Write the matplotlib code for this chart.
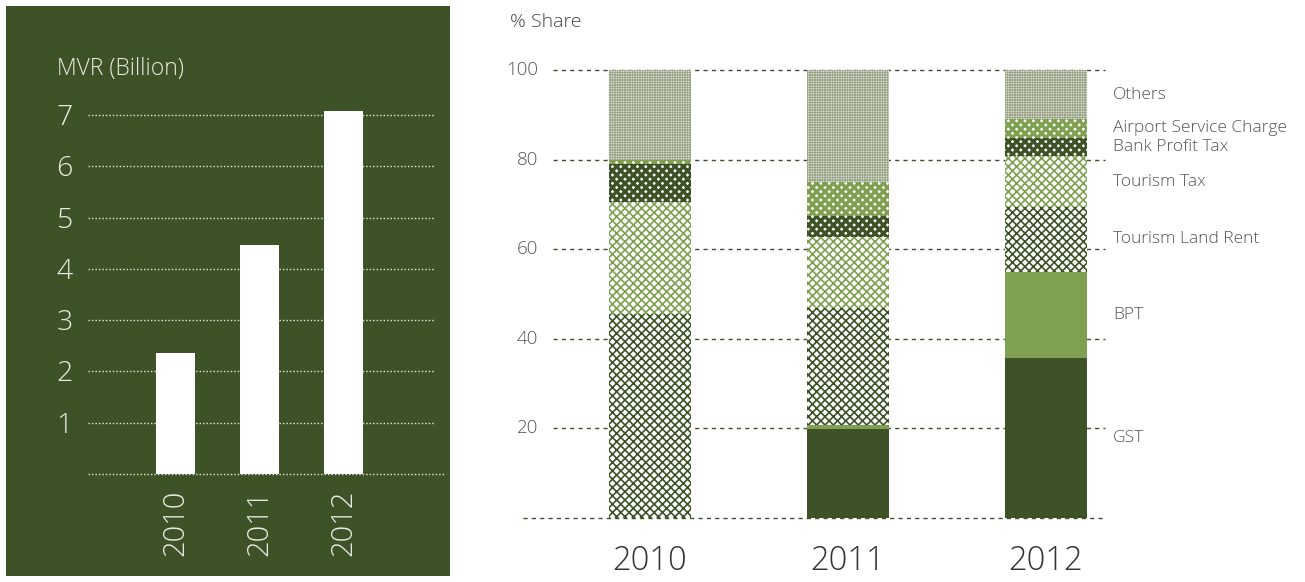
import matplotlib
matplotlib.use("Agg")
import matplotlib.pyplot as plt

plt.rcParams['font.family'] = ['Open Sans', 'DejaVu Sans']
plt.rcParams['font.weight'] = 'light'

# ----- DATA -----
years = ["2010", "2011", "2012"]
revenue_bn = [2.36, 4.46, 7.08]

# stacked shares, bottom to top
categories = ["GST", "BPT", "Tourism Land Rent", "Tourism Tax",
              "Bank Profit Tax", "Airport Service Charge", "Others"]
share_2010 = [0.0, 0.0, 45.5, 25.0, 8.5, 1.0, 20.0]
share_2011 = [19.9, 0.8, 26.2, 15.9, 4.6, 7.7, 24.9]
share_2012 = [35.7, 19.2, 14.6, 11.2, 4.2, 4.1, 11.0]
shares = [share_2010, share_2011, share_2012]

DARK = "#3d5226"
LIGHT = "#7fa050"
# face, hatch, hatch colour, hatch linewidth
styles = {
    "GST": (DARK, None, DARK, 1.0),
    "BPT": (LIGHT, None, LIGHT, 1.0),
    "Tourism Land Rent": ("white", "xxxx", DARK, 1.2),
    "Tourism Tax": ("white", "xxxx", LIGHT, 1.2),
    "Bank Profit Tax": ("white", "xxxx", DARK, 2.4),
    "Airport Service Charge": ("white", "xxxx", LIGHT, 2.4),
    "Others": ("white", "++++++++++", "#98a386", 0.5),
}

W, H = 1305, 582
fig = plt.figure(figsize=(W / 100, H / 100), dpi=100)


def fbox(x0, y0, x1, y1):
    # pixel box (top-left origin) -> figure fraction rect
    return [x0 / W, 1 - y1 / H, (x1 - x0) / W, (y1 - y0) / H]


# ----- LEFT PANEL -----
bg = fig.add_axes(fbox(6, 6, 450, 576))
bg.set_facecolor(DARK)
bg.set_xticks([])
bg.set_yticks([])
for s in bg.spines.values():
    s.set_visible(False)
bg.set_zorder(0)

txt = "#e9ebe2"
ax1 = fig.add_axes(fbox(88, 94.4, 435, 474))
ax1.set_zorder(1)
ax1.patch.set_alpha(0)
x1 = range(len(years))
ax1.bar(x1, revenue_bn, width=0.47, color="white", zorder=3)
ax1.set_xlim(-1.04, 3.09)
ax1.set_ylim(0, 7.4)
for v in range(1, 8):
    ax1.axhline(v, color=txt, lw=1, ls=(0, (1, 1.5)), zorder=1)
ax1.axhline(0, xmin=0, xmax=1.03, color=txt, lw=1, ls=(0, (1, 1.5)),
            clip_on=False, zorder=1)
for s in ax1.spines.values():
    s.set_visible(False)
ax1.set_xticks([])
ax1.set_yticks([])
for v in range(1, 8):
    ax1.text(-1.32, v - 0.06, str(v), color=txt, fontsize=20.5,
             ha="center", va="center")
for i, y in enumerate(years):
    ax1.text(i, -0.3, y, color=txt, fontsize=21,
             rotation=90, ha="center", va="top")
fig.text(57 / W, 1 - 69 / H, "MVR (Billion)", color=txt, fontsize=16.5,
         va="center")

# ----- RIGHT PANEL -----
ax2 = fig.add_axes(fbox(553, 70, 1105, 518))
x2 = list(range(len(years)))
for j, cat in enumerate(categories):
    face, hatch, hcol, hlw = styles[cat]
    vals = [s[j] for s in shares]
    bottoms = [sum(s[:j]) for s in shares]
    with plt.rc_context({"hatch.linewidth": hlw}):
        bars = ax2.bar(x2, vals, bottom=bottoms, width=0.414, color=face,
                       edgecolor=hcol, hatch=hatch, linewidth=0, zorder=3)
    for b in bars:
        if hasattr(b, "set_hatch_linewidth"):
            b.set_hatch_linewidth(hlw)

ax2.set_xlim(-0.49, 2.298)
ax2.set_ylim(0, 100)
for v in [20, 40, 60, 80, 100]:
    ax2.axhline(v, color=DARK, lw=1, ls=(0, (3, 3)), zorder=1, clip_on=False)
ax2.axhline(0, xmin=-30 / 552, xmax=1, color=DARK, lw=1, ls=(0, (3, 3)),
            zorder=1, clip_on=False)
for s in ax2.spines.values():
    s.set_visible(False)
ax2.set_xticks([])
ax2.set_yticks([])
for v in [20, 40, 60, 80, 100]:
    ax2.text(-0.565, v, str(v), color="#555555", fontsize=13.5,
             ha="right", va="center", clip_on=False)
for i, y in enumerate(years):
    ax2.text(i, -6.0, y, color="#333333", fontsize=23.5,
             ha="center", va="top")

# labels beside the 2012 bar at segment midpoints
for j, cat in enumerate(categories):
    mid = sum(share_2012[:j]) + share_2012[j] / 2
    ax2.text(2.34, mid, cat, color="#555555", fontsize=12.5,
             ha="left", va="center", clip_on=False)

fig.text(510 / W, 1 - 22 / H, "% Share", color="#444444", fontsize=14,
         va="center")

fig.savefig("out.png", dpi=100)
